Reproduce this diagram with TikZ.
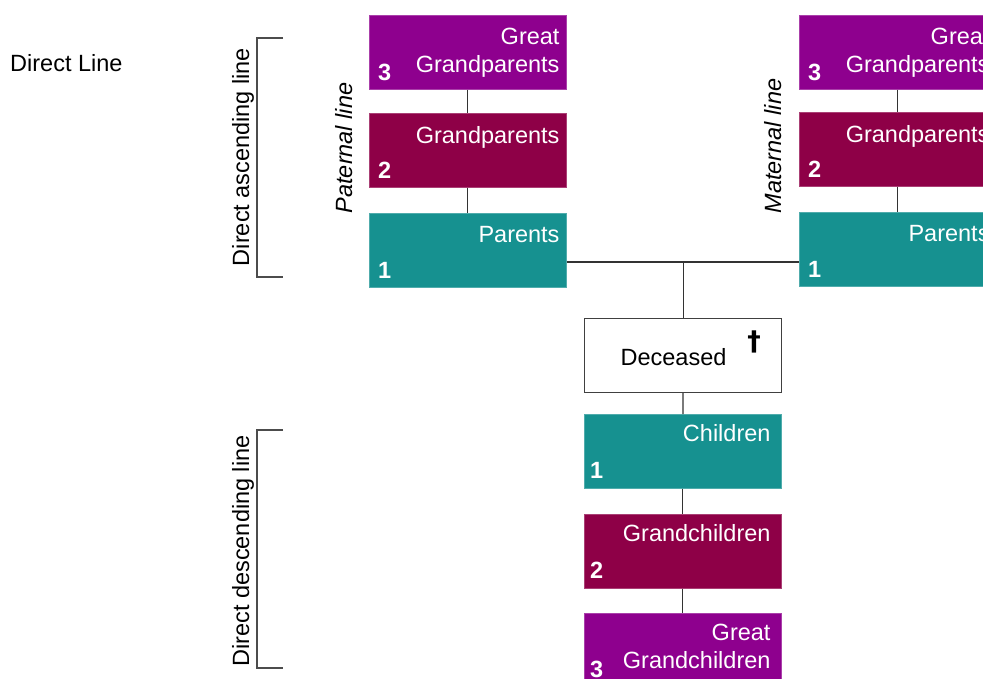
\documentclass[tikz,border=0pt]{standalone}
\usepackage{fontspec}
\setmainfont{Liberation Sans}
\newfontfamily\crossfont{DejaVu Sans}
\definecolor{gen3}{HTML}{8E008E}
\definecolor{gen2}{HTML}{8E0047}
\definecolor{gen1}{HTML}{169190}
\definecolor{wire}{HTML}{333333}
\begin{document}
\begin{tikzpicture}[x=1pt,y=-1pt,
  font=\fontsize{23.5}{28}\selectfont,
  genbox/.style={rectangle, anchor=north west, inner sep=0pt,
    minimum width=197pt, minimum height=74pt,
    fill=#1, draw=#1!75!white, line width=0.7pt},
  deadbox/.style={rectangle, anchor=north west, inner sep=0pt,
    minimum width=197pt, minimum height=74pt,
    fill=white, draw=black!75, line width=1.2pt},
  genname/.style={anchor=north east, inner sep=0pt, align=right, text=white},
  gennum/.style={anchor=base west, inner sep=0pt, text=white, font=\fontsize{23.5}{28}\selectfont\bfseries},
  sidelabel/.style={anchor=base, inner sep=0pt, rotate=90},
  wireline/.style={draw=wire, line width=1.2pt},
  bracket/.style={draw=black!70, line width=1.2pt}]
\useasboundingbox (0,0) rectangle (983,679);
\clip (0,0) rectangle (983,679);

% heading
\node[anchor=base west, inner sep=0pt] (title) at (10,72) {Direct Line};

% side brackets
\coordinate (ascT) at (283,38);
\coordinate (ascB) at (283,277);
\coordinate (desT) at (283,430);
\coordinate (desB) at (283,668);
\draw[bracket] (ascT) -- ++(-26,0) |- (ascB);
\draw[bracket] (desT) -- ++(-26,0) |- (desB);
\node[sidelabel] (asc) at (249,157) {Direct ascending line};
\node[sidelabel] (des) at (249,551) {Direct descending line};

% paternal line
\node[genbox=gen3] (pg3) at (369,15) {};
\node[genbox=gen2] (pg2) at (369,113) {};
\node[genbox=gen1] (pg1) at (369,213) {};
\node[sidelabel, font=\fontsize{23.5}{28}\selectfont\itshape] (pat) at (352,148) {Paternal line};

% maternal line
\node[genbox=gen3] (mg3) at (799,15) {};
\node[genbox=gen2] (mg2) at (799,112) {};
\node[genbox=gen1] (mg1) at (799,212) {};
\node[sidelabel, font=\fontsize{23.5}{28}\selectfont\itshape] (mat) at (781,146) {Maternal line};

% descendants
\node[deadbox] (dec) at (584,318) {};
\node[genbox=gen1] (c1) at (584,414) {};
\node[genbox=gen2] (c2) at (584,514) {};
\node[genbox=gen3] (c3) at (584,613) {};

% names, upper boxes
\foreach \b/\t in {pg3/{Great\\Grandparents}, pg2/Grandparents, pg1/Parents,
                   mg3/{Great\\Grandparents}, mg2/Grandparents, mg1/Parents}
  \node[genname] (\b-name) at ([xshift=-7pt,yshift=-13pt]\b.north east) {\t};
% names, lower boxes
\foreach \b/\t in {c1/Children, c2/Grandchildren, c3/{Great\\Grandchildren}}
  \node[genname] (\b-name) at ([xshift=-11pt,yshift=-10.5pt]\b.north east) {\t};

% generation numbers
\foreach \b/\n in {pg3/3, pg2/2, pg1/1, mg3/3, mg2/2, mg1/1}
  \node[gennum] (\b-num) at ([xshift=9pt,yshift=9.5pt]\b.south west) {\n};
\foreach \b/\n in {c1/1, c2/2, c3/3}
  \node[gennum] (\b-num) at ([xshift=6pt,yshift=10.5pt]\b.south west) {\n};

% deceased
\node[anchor=base, inner sep=0pt] (dec-name) at (673.5,365) {Deceased};
\node[anchor=north, inner sep=0pt, font=\fontsize{27}{30}\selectfont\crossfont\bfseries] (dagger) at (754,331) {†};

% connectors
\coordinate (join) at (dec.north |- 0,262);
\draw[wireline] (pg3) -- (pg2);
\draw[wireline] (pg2) -- (pg1);
\draw[wireline] (mg3) -- (mg2);
\draw[wireline] (mg2) -- (mg1);
\draw[wireline] (pg1.east |- join) -- (mg1.west |- join);
\draw[wireline] (join) -- (dec.north);
\draw[wireline] (dec) -- (c1);
\draw[wireline] (c1) -- (c2);
\draw[wireline] (c2) -- (c3);
\end{tikzpicture}
\end{document}
